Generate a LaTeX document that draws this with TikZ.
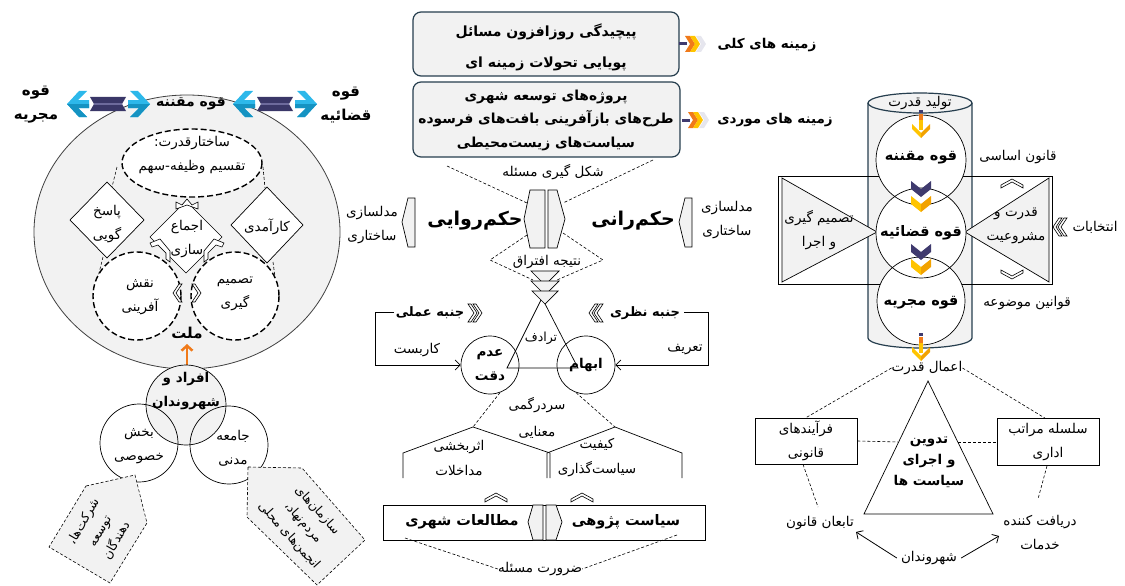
\documentclass[tikz,border=0pt]{standalone}
\usepackage{fontspec}
\newfontfamily\arabicfont[Script=Arabic]{DejaVu Sans}
\TeXXeTstate=1
\usetikzlibrary{arrows.meta}
\newcommand\fa[1]{\beginR #1\endR}
\definecolor{gfill}{HTML}{F2F2F2}
\definecolor{slate}{HTML}{263E4E}
\definecolor{cyanA}{HTML}{2DB8EA}
\definecolor{cyanB}{HTML}{1593C2}
\definecolor{bandc}{HTML}{3A3768}
\definecolor{bandl}{HTML}{6D6A9C}
\definecolor{orangeA}{HTML}{F07A1A}
\definecolor{yellowA}{HTML}{FFC400}
\definecolor{goldA}{HTML}{F2A200}
\definecolor{purpA}{HTML}{3F3A6E}
\definecolor{lightch}{HTML}{E6E6EE}
\tikzset{
  tx/.style={font=\arabicfont\fontsize{13.5}{24}\selectfont, align=center, inner sep=0pt},
  bx/.style={font=\arabicfont\bfseries\fontsize{13.5}{24}\selectfont, align=center, inner sep=0pt},
  bigb/.style={font=\arabicfont\bfseries\fontsize{15}{24}\selectfont, align=center, inner sep=0pt},
  big/.style={font=\arabicfont\bfseries\fontsize{19}{23}\selectfont, inner sep=0pt},
  dsh/.style={dash pattern=on 3pt off 2pt, line width=0.6pt},
  tdash/.style={dash pattern=on 6pt off 3pt, line width=1.4pt},
  ln/.style={line width=0.7pt},
  arr/.style={line width=0.8pt, -{Straight Barb[length=5pt,width=10pt]}},
  chevR/.pic={\fill[#1] (0,-8) -- (5,-8) -- (10,0) -- (5,8) -- (0,8) -- (5,0) -- cycle;},
  chevDP/.pic={\fill[purpA] (-10,-6) -- (0,2) -- (10,-6) -- (10,2) -- (0,10) -- (-10,2) -- cycle;},
  chevDY/.pic={\fill[yellowA] (-10,-6) -- (0,2) -- (0,10) -- (-10,2) -- cycle;
               \fill[goldA] (0,2) -- (10,-6) -- (10,2) -- (0,10) -- cycle;},
  hcU/.pic={\draw[fill=white,line width=.6pt] (-11,3) -- (0,-3) -- (11,3) -- (11,6) -- (0,0) -- (-11,6) -- cycle;},
  hcD/.pic={\draw[fill=white,line width=.6pt] (-11,-3) -- (0,3) -- (11,-3) -- (11,-6) -- (0,0) -- (-11,-6) -- cycle;},
  hcL/.pic={\draw[fill=white,line width=.6pt] (3,-9) -- (-3,0) -- (3,9) -- (6,9) -- (0,0) -- (6,-9) -- cycle;},
  hcR/.pic={\draw[fill=white,line width=.6pt] (-3,-9) -- (3,0) -- (-3,9) -- (-6,9) -- (0,0) -- (-6,-9) -- cycle;},
  cyanL/.pic={\fill[cyanA] (0,0) -- (12,-13) -- (20,-13) -- (11,-4) -- (22,-4) -- (22,4) -- (11,4) -- (20,13) -- (12,13) -- cycle;
              \fill[cyanB] (0,0) -- (22,0) -- (22,4) -- (11,4) -- (20,13) -- (12,13) -- cycle;},
  cyanR/.pic={\fill[cyanA] (0,0) -- (-12,-13) -- (-20,-13) -- (-11,-4) -- (-22,-4) -- (-22,4) -- (-11,4) -- (-20,13) -- (-12,13) -- cycle;
              \fill[cyanB] (0,0) -- (-22,0) -- (-22,4) -- (-11,4) -- (-20,13) -- (-12,13) -- cycle;},
  band/.pic={\fill[bandc] (0,-7) -- (36,-7) -- (32,0) -- (36,7) -- (0,7) -- (4,0) -- cycle;
             \fill[bandl] (4,-1) -- (32,-1) -- (32,1) -- (4,1) -- cycle;},
  ctxarrow/.pic={\draw[purpA, line width=3pt] (-6,0) -- (2,0);
     \pic at (0,0) {chevR=orangeA}; \pic at (5,0) {chevR=yellowA}; \pic at (11,0) {chevR=lightch};},
  yarrow/.pic={\fill[purpA] (-2,-12) rectangle (2,-9); \fill[orangeA] (-2,-8) rectangle (2,-2);
     \fill[yellowA] (-2,-2) rectangle (2,8);
     \fill[yellowA] (-9,2) -- (0,11) -- (0,16) -- (-9,7) -- cycle;
     \fill[goldA] (9,2) -- (0,11) -- (0,16) -- (9,7) -- cycle;},
}
\begin{document}
\begin{tikzpicture}[x=1pt,y=-1pt]
\useasboundingbox (0,0) rectangle (1125,586);

%================ LEFT PART =================
\draw[fill=gfill, draw=black!75, line width=0.8pt] (187,232) ellipse [x radius=153, y radius=137];
% power structure ellipse
\draw[tdash, fill=white] (192,163) ellipse [x radius=70, y radius=34];
\node[tx] (lsaq) at (192,155) {\fa{ساختارقدرت:}\\\fa{تقسیم وظیفه-سهم}};
% thin dashed links
\draw[dsh] (117,167) -- (112,187);
\draw[dsh] (263,167) -- (265,188);
\draw[dsh] (103,257) -- (98,277);
\draw[dsh] (273,262) -- (275,277);
% dashed circles
\draw[tdash, fill=white] (137,296) circle [radius=44];
\draw[tdash, fill=white] (235,296) circle [radius=44];
% diamonds
\draw[ln, fill=white] (70,220) -- (107,182) -- (144,220) -- (107,258) -- cycle;
\draw[ln, fill=white] (231,225) -- (267,187) -- (303,225) -- (267,263) -- cycle;
\draw[ln, fill=white] (150,237) -- (186,201) -- (222,237) -- (186,273) -- cycle;
% small hollow connectors
\draw[fill=white,line width=.6pt] (176,209) -- (176,202) -- (182,205) -- (187,199) -- (192,205) -- (198,202) -- (198,209) -- (187,205) -- cycle;
\draw[fill=white,line width=.6pt] (150,243) -- (160,239) -- (170,251) -- (170,262) -- (166,259) -- (166,253) -- (158,245) -- (152,247) -- cycle;
\draw[fill=white,line width=.6pt] (224,243) -- (214,239) -- (204,251) -- (204,262) -- (208,259) -- (208,253) -- (216,245) -- (222,247) -- cycle;
\pic at (176,293) {hcL};
\pic at (198,293) {hcR};
% texts
\node[tx] (lpg) at (107,224) {\fa{پاسخ}\\\fa{گویی}};
\node[tx] (lkar) at (267,227) {\fa{کارآمدی}};
\node[tx] (lejm) at (187,239) {\fa{اجماع}\\\fa{سازی}};
\node[tx] (lnaq) at (140,297) {\fa{نقش}\\\fa{آفرینی}};
\node[tx] (ltas) at (235,294) {\fa{تصمیم}\\\fa{گیری}};
\node[bigb] (lmel) at (187,333) {\fa{ملت}};
% top labels and arrows
\node[bigb, font=\arabicfont\bfseries\fontsize{14}{24}\selectfont] (lqmq) at (191,104) {\fa{قوه مقننه}};
\node[bigb] (lqmj) at (36,105) {\fa{قوه}\\\fa{مجریه}};
\node[bigb] (lqqz) at (346,105) {\fa{قوه}\\\fa{قضائیه}};
\pic at (67,104) {cyanL};
\pic at (90,104) {band};
\pic at (150,104) {cyanR};
\pic at (233,104) {cyanL};
\pic at (257,104) {band};
\pic at (317,104) {cyanR};
% arrow to nation
\fill[purpA] (185.5,366) rectangle (188.5,370);
\draw[orangeA, line width=2.5pt, -{Straight Barb[length=5pt,width=11pt]}] (187,365) -- (187,344);

% people circles
\fill[white] (139,443) circle [radius=39];
\fill[white] (229,445) circle [radius=39];
\fill[gfill] (186,405) circle [radius=40];
\draw[ln] (139,443) circle [radius=39];
\draw[ln] (229,445) circle [radius=39];
\draw[ln] (186,405) circle [radius=40];
\node[bx] (lafr) at (186,391) {\fa{افراد و}\\\fa{شهروندان}};
\node[tx] (lbak) at (139,446) {\fa{بخش}\\\fa{خصوصی}};
\node[tx] (ljam) at (233,448) {\fa{جامعه}\\\fa{مدنی}};
% tags
\draw[dsh, fill=gfill] (86,486) -- (135,475) -- (147,523) -- (110,583) -- (49,547) -- cycle;
\draw[dsh, fill=gfill] (248,467) -- (302,468) -- (365,540) -- (317,585) -- (247,517) -- cycle;
\node[tx, rotate=60, font=\arabicfont\fontsize{12.5}{19}\selectfont] (ltag1) at (100,531) {\fa{شرکت‌ها،}\\\fa{توسعه}\\\fa{دهندگان}};
\node[tx, rotate=-48, font=\arabicfont\fontsize{12.5}{19}\selectfont] (ltag2) at (303,523) {\fa{سازمان‌های}\\\fa{مردم‌نهاد،}\\\fa{انجمن‌های محلی}};

%================ MIDDLE PART =================
\draw[draw=slate, fill=gfill, line width=1.2pt, rounded corners=8pt] (413,12) rectangle (679,76);
\draw[draw=slate, fill=gfill, line width=1.2pt, rounded corners=8pt] (413,82) rectangle (680,157);
\node[bx, font=\arabicfont\bfseries\fontsize{14}{31}\selectfont] (mb1) at (546,47) {\fa{پیچیدگی روزافزون مسائل}\\\fa{پویایی تحولات زمینه ای}};
\node[bx, font=\arabicfont\bfseries\fontsize{13.8}{23.5}\selectfont] (mb2) at (546,120) {\fa{پروژه‌های توسعه شهری}\\\fa{طرح‌های بازآفرینی بافت‌های فرسوده}\\\fa{سیاست‌های زیست‌محیطی}};
\pic at (685,44) {ctxarrow};
\pic at (688,120) {ctxarrow};
\node[bx] (mzk) at (767,45) {\fa{زمینه های کلی}};
\node[bx] (mzm) at (775,120) {\fa{زمینه های موردی}};
% dashed problem formation
\node[tx] (mshk) at (553,172) {\fa{شکل گیری مسئله}};
\draw[dsh] (447,166) -- (527,203);
\draw[dsh] (653,160) -- (563,203);
\draw[dsh] (527,235) -- (490,260) -- (533,280);
\draw[dsh] (563,233) -- (603,260) -- (557,280);
% central pieces
\draw[ln, fill=gfill] (530,190) -- (545,190) -- (545,248) -- (530,248) -- (524,219) -- cycle;
\draw[ln, fill=gfill] (548,190) -- (557,190) -- (565,219) -- (557,248) -- (548,248) -- cycle;
\node[big] (mhr) at (475,221) {\fa{حکم‌روایی}};
\node[big] (mhn) at (633,221) {\fa{حکم‌رانی}};
\draw[ln, fill=gfill] (415,198) -- (408,198) -- (402,222) -- (408,247) -- (415,247) -- cycle;
\draw[ln, fill=gfill] (692,198) -- (685,198) -- (679,222) -- (685,247) -- (692,247) -- cycle;
\node[tx] (mml) at (372,225) {\fa{مدلسازی}\\\fa{ساختاری}};
\node[tx] (mmr) at (727,220) {\fa{مدلسازی}\\\fa{ساختاری}};
\node[tx] (mnat) at (547,262) {\fa{نتیجه افتراق}};
% triangle and circles
\draw[ln] (542,298) -- (507,368) -- (578,368) -- cycle;
\draw[ln, fill=gfill] (531,271) -- (559,271) -- (545,285) -- cycle;
\draw[ln, fill=gfill] (531,281) -- (559,281) -- (545,295) -- cycle;
\draw[ln, fill=gfill] (532,291) -- (558,291) -- (545,304) -- cycle;
\node[tx, font=\arabicfont\fontsize{12.5}{24}\selectfont] (mtar) at (541,338) {\fa{ترادف}};
\node[draw, circle, ln, minimum size=58pt, bx] (madm) at (490,365) {\fa{عدم}\\\fa{دقت}};
\node[draw, circle, ln, minimum size=58pt, bx] (mebh) at (586,365) {\fa{ابهام}};
\node[bx, font=\arabicfont\bfseries\fontsize{13}{24}\selectfont] (mjam) at (430,313) {\fa{جنبه عملی}};
\node[bx, font=\arabicfont\bfseries\fontsize{13}{24}\selectfont] (mjan) at (645,313) {\fa{جنبه نظری}};
\pic at (474,313) {hcR}; \pic at (479,313) {hcR};
\pic at (592,313) {hcL}; \pic at (597,313) {hcL};
\draw[arr] (394,312) -- (375,312) |- (madm.west);
\draw[arr] (684,312) -- (708,312) |- (mebh.east);
\node[tx] (mkar) at (417,350) {\fa{کاربست}};
\node[tx] (mtar2) at (685,350) {\fa{تعریف}};
\node[tx, font=\arabicfont\fontsize{13.5}{27}\selectfont] (msar) at (537,418) {\fa{سردرگمی}\\\fa{معنایی}};
\draw[dsh] (madm.-70) -- (473,427);
\draw[dsh] (mebh.-110) -- (615,427);
% houses
\draw[ln] (403,478) -- (403,453) -- (473,427) -- (550,453) -- (550,478);
\draw[ln] (547,478) -- (547,453) -- (615,427) -- (682,453) -- (682,478);
\node[tx, font=\arabicfont\fontsize{13.5}{25}\selectfont] (mh1) at (459,458) {\fa{اثربخشی}\\\fa{مداخلات}};
\node[tx, font=\arabicfont\fontsize{13.5}{25}\selectfont] (mh2) at (597,458) {\fa{کیفیت}\\\fa{سیاست‌گذاری}};
\pic at (496,496) {hcU};
\pic at (582,496) {hcU};
% bottom box
\draw[ln] (383,505) rectangle (705,540);
\draw[ln, fill=gfill] (533,505) -- (543,505) -- (543,540) -- (533,540) -- (528,522) -- cycle;
\draw[ln, fill=gfill] (546,505) -- (556,505) -- (562,522) -- (556,540) -- (546,540) -- cycle;
\node[bx, font=\arabicfont\bfseries\fontsize{14.5}{24}\selectfont] (mmot) at (462,522) {\fa{مطالعات شهری}};
\node[bx, font=\arabicfont\bfseries\fontsize{14.5}{24}\selectfont] (msia) at (626,522) {\fa{سیاست پژوهی}};
\node[tx] (mzar) at (540,569) {\fa{ضرورت مسئله}};
\draw[dsh] (405,538) -- (mzar.west);
\draw[dsh] (677,535) -- (mzar.east);

%================ RIGHT PART =================
% cylinder
\fill[gfill] (868,103) rectangle (972,338);
\draw[slate, line width=1.2pt, fill=gfill] (868,103) -- (868,338) arc [start angle=180, end angle=0, x radius=52, y radius=10] -- (972,103);
\draw[slate, line width=1.2pt, fill=gfill] (920,103) ellipse [x radius=52, y radius=10];
\node[tx] (rtol) at (920,103) {\fa{تولید قدرت}};
% cross rectangle and triangles
\draw[ln] (778,176) rectangle (1052,284);
\draw[ln, fill=gfill] (782,178) -- (782,282) -- (877,232) -- cycle;
\draw[ln, fill=gfill] (1049,178) -- (1049,282) -- (965,232) -- cycle;
% circles
\fill[white] (921,160) circle [radius=45];
\fill[white] (921,233) circle [radius=45];
\fill[white] (921,301) circle [radius=44];
\draw[ln] (921,160) circle [radius=45];
\draw[ln] (921,233) circle [radius=45];
\draw[ln] (921,301) circle [radius=44];
\node[bx, font=\arabicfont\bfseries\fontsize{14.5}{24}\selectfont] (rc1) at (921,158) {\fa{قوه مقننه}};
\node[bx, font=\arabicfont\bfseries\fontsize{14.5}{24}\selectfont] (rc2) at (921,233) {\fa{قوه قضائیه}};
\node[bx, font=\arabicfont\bfseries\fontsize{14.5}{24}\selectfont] (rc3) at (921,303) {\fa{قوه مجریه}};
\pic at (921,122) {yarrow};
\pic at (921,187) {chevDP};
\pic at (921,202) {chevDY};
\pic at (921,250) {chevDP};
\pic at (921,265) {chevDY};
\pic at (921,345) {yarrow};
\node[tx] (rtas) at (819,230) {\fa{تصمیم گیری}\\\fa{و اجرا}};
\node[tx] (rqod) at (1016,226) {\fa{قدرت و}\\\fa{مشروعیت}};
\pic at (1012,182) {hcU};
\pic at (1012,276) {hcD};
\node[tx] (rqa) at (1018,157) {\fa{قانون اساسی}};
\node[tx] (rqm) at (1027,303) {\fa{قوانین موضوعه}};
\node[tx] (rent) at (1095,227) {\fa{انتخابات}};
\pic at (1056,227) {hcL}; \pic at (1061,227) {hcL};
% policy part
\node[tx] (ramal) at (927,368) {\fa{اعمال قدرت}};
\node[draw, ln, tx, minimum width=102pt, minimum height=46pt] (rb1) at (806,441) {\fa{فرآیندهای}\\\fa{قانونی}};
\node[draw, ln, tx, minimum width=102pt, minimum height=47pt] (rb2) at (1048,442) {\fa{سلسله مراتب}\\\fa{اداری}};
\draw[dsh] (ramal.west) -- (rb1.north);
\draw[dsh] (ramal.east) -- ([xshift=-3pt]rb2.north);
\draw[ln] (928,381) -- (864,514) -- (993,514) -- cycle;
\node[bx, font=\arabicfont\bfseries\fontsize{13.5}{21}\selectfont] (rtri) at (929,462) {\fa{تدوین}\\\fa{و اجرای}\\\fa{سیاست ها}};
\draw[dsh] (rb1.east) -- (898,442);
\draw[dsh] (958,442) -- (rb2.west);
\node[tx] (rtab) at (820,523) {\fa{تابعان قانون}};
\node[tx] (rdar) at (1040,533) {\fa{دریافت کننده}\\\fa{خدمات}};
\node[tx] (rshah) at (929,558) {\fa{شهروندان}};
\coordinate (rtabtop) at (818,507);
\coordinate (rdartop) at (1038,499);
\coordinate (rdarend) at (999,536);
\draw[dsh] ([xshift=-3pt]rb1.south) -- (rtabtop);
\draw[dsh] ([xshift=-1pt]rb2.south) -- (rdartop);
\draw[arr] ([xshift=-4pt]rshah.west) -- ([xshift=2pt,yshift=-2pt]rtab.south east);
\draw[arr] ([xshift=4pt]rshah.east) -- (rdarend);
\end{tikzpicture}
\end{document}
